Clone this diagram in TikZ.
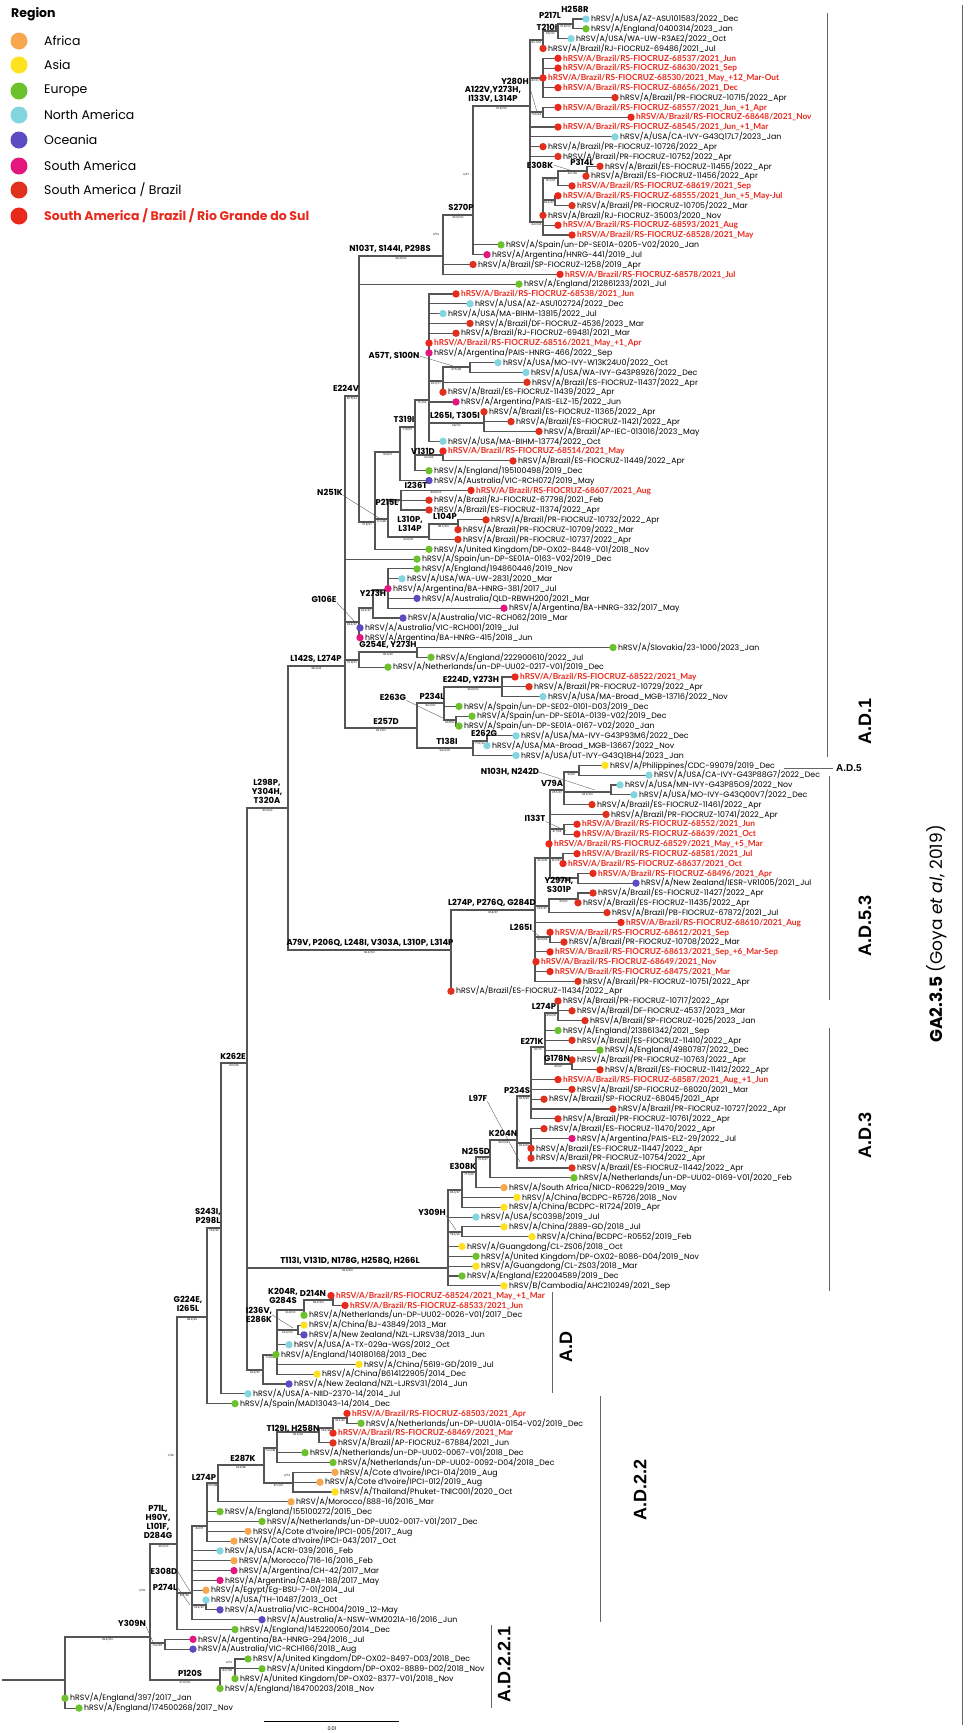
\documentclass[tikz,border=0pt]{standalone}
\usepackage{fontspec}
\setmainfont{Poppins}
\newfontfamily\cladefont{Liberation Sans}
\newfontfamily\rsfont{Lato}
\usetikzlibrary{calc}

\definecolor{afr}{HTML}{F7A84F}
\definecolor{asia}{HTML}{FFE11F}
\definecolor{eur}{HTML}{6DC12C}
\definecolor{nam}{HTML}{83D6E0}
\definecolor{oce}{HTML}{5B4CC2}
\definecolor{sam}{HTML}{E2187F}
\definecolor{bra}{HTML}{E0301E}
\definecolor{rsred}{HTML}{E8291C}
\definecolor{brgray}{HTML}{555555}

\pgfdeclarelayer{bg}
\pgfsetlayers{bg,main}

\tikzset{
  br/.style={draw=brgray, line width=1.1pt, line cap=rect},
  tdot/.style={circle, fill=#1, inner sep=0pt, minimum size=7.4pt},
  tlab/.style={anchor=mid west, inner sep=0pt, font=\fontsize{7.8}{8}\selectfont},
  rslab/.style={tlab, text=rsred, font=\rsfont\fontsize{8.3}{9}\selectfont\bfseries},
  mut/.style={font=\fontsize{8.4}{9}\selectfont\bfseries, align=center, inner sep=0pt},
  sup/.style={pos=0.75, below=0.2pt, font=\fontsize{2.6}{2.8}\selectfont, inner sep=0.3pt},
  note/.style={font=\fontsize{2.6}{2.8}\selectfont, inner sep=0pt},
  ptr/.style={draw=brgray, line width=0.35pt},
  cbar/.style={draw=black!60, line width=0.8pt},
  clab/.style={font=\cladefont\fontsize{18}{18}\selectfont\bfseries, rotate=90},
  legdot/.style={circle, fill=#1, inner sep=0pt, minimum size=17pt},
  legtext/.style={anchor=west, inner sep=0pt, font=\fontsize{12.5}{13}\selectfont},
}

% tips: name, x, row, colour, text
\newcommand{\leaf}[5]{\node[tdot=#4] (#1) at (#2,{ty(#3)}) {};
  \node[tlab] (#1l) at ([xshift=5pt]#1.center) {#5};}
\newcommand{\brleaf}[4]{\leaf{#1}{#2}{#3}{bra}{hRSV/A/Brazil/#4}}
\newcommand{\rsleaf}[4]{\node[tdot=rsred] (#1) at (#2,{ty(#3)}) {};
  \node[rslab] (#1l) at ([xshift=5pt]#1.center) {hRSV/A/Brazil/RS-FIOCRUZ-#4};}
% branches
\newcommand{\kids}[2]{\foreach \kd in {#2}{\draw[br] (#1.center) |- (\kd.center);}}
\newcommand{\twigs}[3]{\draw[br] (#1.center) |- node[sup]{#3} (#2.center);}

\begin{document}
\begin{tikzpicture}[x=1pt, y=-1pt, declare function={ty(\k)=19+(\k-1)*9.82;}]
\useasboundingbox (0,0) rectangle (975,1733);

% legend
\node[anchor=west, inner sep=0pt, font=\fontsize{12.5}{13}\selectfont\bfseries] (legtitle) at (11,14) {Region};
\node[legdot=afr] (lg1) at (19,41) {};   \node[legtext] (lg1t) at (44,41) {Africa};
\node[legdot=asia] (lg2) at (19,65) {};  \node[legtext] (lg2t) at (44,65) {Asia};
\node[legdot=eur] (lg3) at (19,91) {};   \node[legtext] (lg3t) at (44,91) {Europe};
\node[legdot=nam] (lg4) at (19,115) {};  \node[legtext] (lg4t) at (44,115) {North America};
\node[legdot=oce] (lg5) at (19,140) {};  \node[legtext] (lg5t) at (44,140) {Oceania};
\node[legdot=sam] (lg6) at (19,166) {};  \node[legtext] (lg6t) at (44,166) {South America};
\node[legdot=bra] (lg7) at (19,190) {};  \node[legtext] (lg7t) at (44,190) {South America / Brazil};
\node[legdot=rsred] (lg8) at (19,216) {};
\node[legtext, text=rsred, font=\fontsize{12.5}{13}\selectfont\bfseries] (lg8t) at (44,216) {South America / Brazil / Rio Grande do Sul};

% internal nodes
\coordinate (nB) at (573,24);   \coordinate (nA) at (558,31);   \coordinate (nC) at (543,40);
\coordinate (nD) at (543,78);   \coordinate (nE) at (543,112);  \coordinate (nF) at (587,171);
\coordinate (nG) at (558,178);  \coordinate (nI) at (555,200);  \coordinate (nK) at (543,222);
\coordinate (nM) at (530,106);  \coordinate (nS) at (473,215);  \coordinate (nP) at (443,256);
\coordinate (nE224V) at (359,396);
\coordinate (nA57T) at (470,367); \coordinate (nG443) at (443,381); \coordinate (n429) at (429,400);
\coordinate (nL265I) at (484,423); \coordinate (nV131D) at (443,455); \coordinate (n415) at (415,427);
\coordinate (n400) at (400,452); \coordinate (nP215L) at (401,500); \coordinate (nL104P) at (458,524);
\coordinate (nL310P) at (429,537); \coordinate (n388b) at (388,519); \coordinate (n375) at (375,522);
\coordinate (nY273H) at (388,590); \coordinate (n373) at (373,608); \coordinate (nG106E) at (359,622);
\coordinate (nG254E) at (417,652); \coordinate (n359b) at (359,660); \coordinate (nE224D) at (502,687);
\coordinate (nE263G) at (456,720); \coordinate (nP234L) at (444,703); \coordinate (nE262G) at (487,741);
\coordinate (nT138I) at (473,748); \coordinate (nE257D) at (417,728); \coordinate (nL142S) at (345,666);
\coordinate (nPhil) at (579,772); \coordinate (nN103H) at (611,792); \coordinate (nV79A) at (564,790);
\coordinate (nI133T) at (564,829); \coordinate (n563) at (563,858); \coordinate (n578) at (578,878);
\coordinate (n550) at (550,858); \coordinate (nY297H) at (578,899); \coordinate (nY297Hp) at (549,906);
\coordinate (nL265Ib) at (550,937); \coordinate (nL274Pb) at (535,910); \coordinate (nA79V) at (451,950);
\coordinate (nL298P) at (288,808);
\coordinate (nL274Pc) at (558,1013); \coordinate (nG178N) at (572,1064); \coordinate (nE271K) at (545,1047);
\coordinate (nP234S) at (531,1096); \coordinate (n531k) at (531,1143); \coordinate (nK204N) at (517,1140);
\coordinate (nN255D) at (490,1157); \coordinate (nE308K) at (476,1172); \coordinate (n462b) at (462,1190);
\coordinate (n462) at (462,1232); \coordinate (nT113I) at (448,1268);
\coordinate (nD214N) at (333,1300); \coordinate (nK204R) at (304,1310); \coordinate (nI236) at (298,1330);
\coordinate (nZ) at (277,1355); \coordinate (nW) at (263,1370); \coordinate (nK262E) at (247,1063);
\coordinate (nS243I) at (221,1228); \coordinate (nG224E) at (207,1317);
\coordinate (n347) at (347,1418); \coordinate (n333) at (333,1428); \coordinate (nT129I) at (319,1432);
\coordinate (n277) at (277,1448); \coordinate (nCI) at (293,1483); \coordinate (nE287K) at (264,1465);
\coordinate (nL274Pd) at (218,1483); \coordinate (n207b) at (207,1526); \coordinate (n206) at (206,1605);
\coordinate (n192) at (192,1593); \coordinate (n177) at (177,1544); \coordinate (nY309N) at (165,1643);
\coordinate (nUK) at (235,1668); \coordinate (nP120S) at (220,1680); \coordinate (n150) at (150,1637);
\coordinate (root) at (65,1680); \coordinate (rstub) at (3,1680);

% tips
\leaf{t1}{586}{1}{nam}{hRSV/A/USA/AZ-ASU101583/2022\_Dec}
\leaf{t2}{586}{2}{eur}{hRSV/A/England/0400314/2023\_Jan}
\leaf{t3}{571}{3}{nam}{hRSV/A/USA/WA-UW-R3AE2/2022\_Oct}
\brleaf{t4}{543}{4}{RJ-FIOCRUZ-69486/2021\_Jul}
\rsleaf{t5}{558}{5}{68537/2021\_Jun}
\rsleaf{t6}{558}{6}{68630/2021\_Sep}
\rsleaf{t7}{543}{7}{68530/2021\_May\_+12\_Mar-Out}
\rsleaf{t8}{558}{8}{68656/2021\_Dec}
\brleaf{t9}{615}{9}{PR-FIOCRUZ-10715/2022\_Apr}
\rsleaf{t10}{558}{10}{68557/2021\_Jun\_+1\_Apr}
\rsleaf{t11}{631}{11}{68648/2021\_Nov}
\rsleaf{t12}{558}{12}{68545/2021\_Jun\_+1\_Mar}
\leaf{t13}{615}{13}{nam}{hRSV/A/USA/CA-IVY-G43Q17L7/2023\_Jan}
\brleaf{t14}{543}{14}{PR-FIOCRUZ-10726/2022\_Apr}
\brleaf{t15}{558}{15}{PR-FIOCRUZ-10752/2022\_Apr}
\brleaf{t16}{600}{16}{ES-FIOCRUZ-11455/2022\_Apr}
\brleaf{t17}{586}{17}{ES-FIOCRUZ-11456/2022\_Apr}
\rsleaf{t18}{572}{18}{68619/2021\_Sep}
\rsleaf{t19}{558}{19}{68555/2021\_Jun\_+5\_May-Jul}
\brleaf{t20}{572}{20}{PR-FIOCRUZ-10705/2022\_Mar}
\brleaf{t21}{543}{21}{RJ-FIOCRUZ-35003/2020\_Nov}
\rsleaf{t22}{558}{22}{68593/2021\_Aug}
\rsleaf{t23}{572}{23}{68528/2021\_May}
\leaf{t24}{501}{24}{eur}{hRSV/A/Spain/un-DP-SE01A-0205-V02/2020\_Jan}
\leaf{t25}{487}{25}{sam}{hRSV/A/Argentina/HNRG-441/2019\_Jul}
\brleaf{t26}{473}{26}{SP-FIOCRUZ-1258/2019\_Apr}
\rsleaf{t27}{560}{27}{68578/2021\_Jul}
\leaf{t28}{519}{28}{eur}{hRSV/A/England/212861233/2021\_Jul}
\rsleaf{t29}{456}{29}{68538/2021\_Jun}
\leaf{t30}{470}{30}{nam}{hRSV/A/USA/AZ-ASU102724/2022\_Dec}
\leaf{t31}{443}{31}{nam}{hRSV/A/USA/MA-BIHM-13815/2022\_Jul}
\brleaf{t32}{470}{32}{DF-FIOCRUZ-4536/2023\_Mar}
\brleaf{t33}{456}{33}{RJ-FIOCRUZ-69481/2021\_Mar}
\rsleaf{t34}{429}{34}{68516/2021\_May\_+1\_Apr}
\leaf{t35}{429}{35}{sam}{hRSV/A/Argentina/PAIS-HNRG-466/2022\_Sep}
\leaf{t36}{498}{36}{nam}{hRSV/A/USA/MO-IVY-W13K24U0/2022\_Oct}
\leaf{t37}{526}{37}{nam}{hRSV/A/USA/WA-IVY-G43P89Z6/2022\_Dec}
\brleaf{t38}{527}{38}{ES-FIOCRUZ-11437/2022\_Apr}
\brleaf{t39}{443}{39}{ES-FIOCRUZ-11439/2022\_Apr}
\leaf{t40}{456}{40}{sam}{hRSV/A/Argentina/PAIS-ELZ-15/2022\_Jun}
\brleaf{t41}{484}{41}{ES-FIOCRUZ-11365/2022\_Apr}
\brleaf{t42}{511}{42}{ES-FIOCRUZ-11421/2022\_Apr}
\brleaf{t43}{539}{43}{AP-IEC-013016/2023\_May}
\leaf{t44}{443}{44}{nam}{hRSV/A/USA/MA-BIHM-13774/2022\_Oct}
\rsleaf{t45}{443}{45}{68514/2021\_May}
\brleaf{t46}{513}{46}{ES-FIOCRUZ-11449/2022\_Apr}
\leaf{t47}{429}{47}{eur}{hRSV/A/England/195100498/2019\_Dec}
\leaf{t48}{429}{48}{oce}{hRSV/A/Australia/VIC-RCH072/2019\_May}
\rsleaf{t49}{471}{49}{68607/2021\_Aug}
\brleaf{t50}{429}{50}{RJ-FIOCRUZ-67798/2021\_Feb}
\brleaf{t51}{429}{51}{ES-FIOCRUZ-11374/2022\_Apr}
\brleaf{t52}{486}{52}{PR-FIOCRUZ-10732/2022\_Apr}
\brleaf{t53}{458}{53}{PR-FIOCRUZ-10709/2022\_Mar}
\brleaf{t54}{458}{54}{PR-FIOCRUZ-10737/2022\_Apr}
\leaf{t55}{429}{55}{eur}{hRSV/A/United Kingdom/DP-OX02-8448-V01/2018\_Nov}
\leaf{t56}{417}{56}{eur}{hRSV/A/Spain/un-DP-SE01A-0163-V02/2019\_Dec}
\leaf{t57}{417}{57}{eur}{hRSV/A/England/194860446/2019\_Nov}
\leaf{t58}{402}{58}{nam}{hRSV/A/USA/WA-UW-2831/2020\_Mar}
\leaf{t59}{388}{59}{sam}{hRSV/A/Argentina/BA-HNRG-381/2017\_Jul}
\leaf{t60}{417}{60}{oce}{hRSV/A/Australia/QLD-RBWH200/2021\_Mar}
\leaf{t61}{504}{61}{sam}{hRSV/A/Argentina/BA-HNRG-332/2017\_May}
\leaf{t62}{403}{62}{oce}{hRSV/A/Australia/VIC-RCH062/2019\_Mar}
\leaf{t63}{360}{63}{oce}{hRSV/A/Australia/VIC-RCH001/2019\_Jul}
\leaf{t64}{360}{64}{sam}{hRSV/A/Argentina/BA-HNRG-415/2018\_Jun}
\leaf{t65}{613}{65}{eur}{hRSV/A/Slovakia/23-1000/2023\_Jan}
\leaf{t66}{431}{66}{eur}{hRSV/A/England/222900610/2022\_Jul}
\leaf{t67}{388}{67}{eur}{hRSV/A/Netherlands/un-DP-UU02-0217-V01/2019\_Dec}
\rsleaf{t68}{515}{68}{68522/2021\_May}
\brleaf{t69}{529}{69}{PR-FIOCRUZ-10729/2022\_Apr}
\leaf{t70}{543}{70}{nam}{hRSV/A/USA/MA-Broad\_MGB-13716/2022\_Nov}
\leaf{t71}{459}{71}{eur}{hRSV/A/Spain/un-DP-SE02-0101-D03/2019\_Dec}
\leaf{t72}{472}{72}{eur}{hRSV/A/Spain/un-DP-SE01A-0139-V02/2019\_Dec}
\leaf{t73}{459}{73}{eur}{hRSV/A/Spain/un-DP-SE01A-0167-V02/2020\_Jan}
\leaf{t74}{516}{74}{nam}{hRSV/A/USA/MA-IVY-G43P93M6/2022\_Dec}
\leaf{t75}{487}{75}{nam}{hRSV/A/USA/MA-Broad\_MGB-13667/2022\_Nov}
\leaf{t76}{516}{76}{nam}{hRSV/A/USA/UT-IVY-G43Q18H4/2023\_Jan}
\leaf{t77}{605}{77}{asia}{hRSV/A/Philippines/CDC-99079/2019\_Dec}
\leaf{t78}{649}{78}{nam}{hRSV/A/USA/CA-IVY-G43P88G7/2022\_Dec}
\leaf{t79}{620}{79}{nam}{hRSV/A/USA/MN-IVY-G43P85O9/2022\_Nov}
\leaf{t80}{634}{80}{nam}{hRSV/A/USA/MO-IVY-G43Q00V7/2022\_Dec}
\brleaf{t81}{592}{81}{ES-FIOCRUZ-11461/2022\_Apr}
\brleaf{t82}{606}{82}{PR-FIOCRUZ-10741/2022\_Apr}
\rsleaf{t83}{577}{83}{68552/2021\_Jun}
\rsleaf{t84}{577}{84}{68639/2021\_Oct}
\rsleaf{t85}{549}{85}{68529/2021\_May\_+5\_Mar}
\rsleaf{t86}{577}{86}{68581/2021\_Jul}
\rsleaf{t87}{563}{87}{68637/2021\_Oct}
\rsleaf{t88}{593}{88}{68496/2021\_Apr}
\leaf{t89}{636}{89}{oce}{hRSV/A/New Zealand/IESR-VR1005/2021\_Jul}
\brleaf{t90}{593}{90}{ES-FIOCRUZ-11427/2022\_Apr}
\brleaf{t91}{578}{91}{ES-FIOCRUZ-11435/2022\_Apr}
\brleaf{t92}{607}{92}{PB-FIOCRUZ-67872/2021\_Jul}
\rsleaf{t93}{621}{93}{68610/2021\_Aug}
\rsleaf{t94}{550}{94}{68612/2021\_Sep}
\brleaf{t95}{564}{95}{PR-FIOCRUZ-10708/2022\_Mar}
\rsleaf{t96}{550}{96}{68613/2021\_Sep\_+6\_Mar-Sep}
\rsleaf{t97}{536}{97}{68649/2021\_Nov}
\rsleaf{t98}{550}{98}{68475/2021\_Mar}
\brleaf{t99}{578}{99}{PR-FIOCRUZ-10751/2022\_Apr}
\brleaf{t100}{451}{100}{ES-FIOCRUZ-11434/2022\_Apr}
\brleaf{t101}{558}{101}{PR-FIOCRUZ-10717/2022\_Apr}
\brleaf{t102}{572}{102}{DF-FIOCRUZ-4537/2023\_Mar}
\brleaf{t103}{585}{103}{SP-FIOCRUZ-1025/2023\_Jan}
\leaf{t104}{558}{104}{eur}{hRSV/A/England/213861342/2021\_Sep}
\brleaf{t105}{572}{105}{ES-FIOCRUZ-11410/2022\_Apr}
\leaf{t106}{600}{106}{eur}{hRSV/A/England/4980787/2022\_Dec}
\brleaf{t107}{572}{107}{PR-FIOCRUZ-10763/2022\_Apr}
\brleaf{t108}{600}{108}{ES-FIOCRUZ-11412/2022\_Apr}
\rsleaf{t109}{558}{109}{68587/2021\_Aug\_+1\_Jun}
\brleaf{t110}{572}{110}{SP-FIOCRUZ-68020/2021\_Mar}
\brleaf{t111}{544}{111}{SP-FIOCRUZ-68045/2021\_Apr}
\brleaf{t112}{613}{112}{PR-FIOCRUZ-10727/2022\_Apr}
\brleaf{t113}{558}{113}{PR-FIOCRUZ-10761/2022\_Apr}
\brleaf{t114}{544}{114}{ES-FIOCRUZ-11470/2022\_Apr}
\leaf{t115}{572}{115}{sam}{hRSV/A/Argentina/PAIS-ELZ-29/2022\_Jul}
\brleaf{t116}{531}{116}{ES-FIOCRUZ-11447/2022\_Apr}
\brleaf{t117}{531}{117}{PR-FIOCRUZ-10754/2022\_Apr}
\brleaf{t118}{572}{118}{ES-FIOCRUZ-11442/2022\_Apr}
\leaf{t119}{574}{119}{eur}{hRSV/A/Netherlands/un-DP-UU02-0169-V01/2020\_Feb}
\leaf{t120}{504}{120}{afr}{hRSV/A/South Africa/NICD-R06229/2019\_May}
\leaf{t121}{517}{121}{asia}{hRSV/A/China/BCDPC-R5726/2018\_Nov}
\leaf{t122}{504}{122}{asia}{hRSV/A/China/BCDPC-R1724/2019\_Apr}
\leaf{t123}{476}{123}{nam}{hRSV/A/USA/SC0398/2019\_Jul}
\leaf{t124}{504}{124}{asia}{hRSV/A/China/2889-GD/2018\_Jul}
\leaf{t125}{532}{125}{asia}{hRSV/A/China/BCDPC-R0552/2019\_Feb}
\leaf{t126}{462}{126}{asia}{hRSV/A/Guangdong/CL-ZS06/2018\_Oct}
\leaf{t127}{476}{127}{eur}{hRSV/A/United Kingdom/DP-OX02-8086-D04/2019\_Nov}
\leaf{t128}{476}{128}{asia}{hRSV/A/Guangdong/CL-ZS03/2018\_Mar}
\leaf{t129}{462}{129}{eur}{hRSV/A/England/E22004589/2019\_Dec}
\leaf{t130}{504}{130}{asia}{hRSV/B/Cambodia/AHC210249/2021\_Sep}
\rsleaf{t131}{331}{131}{68524/2021\_May\_+1\_Mar}
\rsleaf{t132}{345}{132}{68533/2021\_Jun}
\leaf{t133}{304}{133}{eur}{hRSV/A/Netherlands/un-DP-UU02-0026-V01/2017\_Dec}
\leaf{t134}{304}{134}{asia}{hRSV/A/China/BJ-43849/2013\_Mar}
\leaf{t135}{304}{135}{oce}{hRSV/A/New Zealand/NZL-LJRSV38/2013\_Jun}
\leaf{t136}{289}{136}{nam}{hRSV/A/USA/A-TX-029a-WGS/2012\_Oct}
\leaf{t137}{276}{137}{eur}{hRSV/A/England/140180168/2013\_Dec}
\leaf{t138}{359}{138}{asia}{hRSV/A/China/5619-GD/2019\_Jul}
\leaf{t139}{317}{139}{asia}{hRSV/A/China/B614122905/2014\_Dec}
\leaf{t140}{289}{140}{oce}{hRSV/A/New Zealand/NZL-LJRSV31/2014\_Jun}
\leaf{t141}{248}{141}{nam}{hRSV/A/USA/A-NIID-2370-14/2014\_Jul}
\leaf{t142}{235}{142}{eur}{hRSV/A/Spain/MAD13043-14/2014\_Dec}
\rsleaf{t143}{347}{143}{68503/2021\_Apr}
\leaf{t144}{361}{144}{eur}{hRSV/A/Netherlands/un-DP-UU01A-0154-V02/2019\_Dec}
\rsleaf{t145}{333}{145}{68469/2021\_Mar}
\brleaf{t146}{333}{146}{AP-FIOCRUZ-67884/2021\_Jun}
\leaf{t147}{305}{147}{eur}{hRSV/A/Netherlands/un-DP-UU02-0067-V01/2018\_Dec}
\leaf{t148}{333}{148}{eur}{hRSV/A/Netherlands/un-DP-UU02-0092-D04/2018\_Dec}
\leaf{t149}{335}{149}{afr}{hRSV/A/Cote d'Ivoire/IPCI-014/2019\_Aug}
\leaf{t150}{320}{150}{afr}{hRSV/A/Cote d'Ivoire/IPCI-012/2019\_Aug}
\leaf{t151}{335}{151}{asia}{hRSV/A/Thailand/Phuket-TNIC001/2020\_Oct}
\leaf{t152}{291}{152}{afr}{hRSV/A/Morocco/888-16/2016\_Mar}
\leaf{t153}{220}{153}{eur}{hRSV/A/England/155100272/2015\_Dec}
\leaf{t154}{262}{154}{eur}{hRSV/A/Netherlands/un-DP-UU02-0017-V01/2017\_Dec}
\leaf{t155}{248}{155}{afr}{hRSV/A/Cote d'Ivoire/IPCI-005/2017\_Aug}
\leaf{t156}{234}{156}{afr}{hRSV/A/Cote d'Ivoire/IPCI-043/2017\_Oct}
\leaf{t157}{220}{157}{nam}{hRSV/A/USA/ACRI-039/2016\_Feb}
\leaf{t158}{234}{158}{afr}{hRSV/A/Morocco/716-16/2016\_Feb}
\leaf{t159}{234}{159}{sam}{hRSV/A/Argentina/CH-42/2017\_Mar}
\leaf{t160}{220}{160}{sam}{hRSV/A/Argentina/CABA-188/2017\_May}
\leaf{t161}{206}{161}{afr}{hRSV/A/Egypt/Eg-BSU-7-01/2014\_Jul}
\leaf{t162}{206}{162}{nam}{hRSV/A/USA/TH-10487/2013\_Oct}
\leaf{t163}{220}{163}{oce}{hRSV/A/Australia/VIC-RCH004/2019\_12-May}
\leaf{t164}{262}{164}{oce}{hRSV/A/Australia/A-NSW-WM2021A-16/2016\_Jun}
\leaf{t165}{235}{165}{eur}{hRSV/A/England/145220050/2014\_Dec}
\leaf{t166}{193}{166}{sam}{hRSV/A/Argentina/BA-HNRG-294/2016\_Jul}
\leaf{t167}{193}{167}{oce}{hRSV/A/Australia/VIC-RCH166/2018\_Aug}
\leaf{t168}{248}{168}{eur}{hRSV/A/United Kingdom/DP-OX02-8497-D03/2018\_Dec}
\leaf{t169}{262}{169}{eur}{hRSV/A/United Kingdom/DP-OX02-8889-D02/2018\_Nov}
\leaf{t170}{235}{170}{eur}{hRSV/A/United Kingdom/DP-OX02-8377-V01/2018\_Nov}
\leaf{t171}{220}{171}{eur}{hRSV/A/England/184700203/2018\_Nov}
\leaf{t172}{65}{172}{eur}{hRSV/A/England/397/2017\_Jan}
\leaf{t173}{79}{173}{eur}{hRSV/A/England/174500268/2017\_Nov}

\begin{pgfonlayer}{bg}
  % A.D.1
  \kids{nB}{t1,t2}
  \kids{nA}{t3} \twigs{nA}{nB}{76.4/100}
  \kids{nC}{t4} \twigs{nC}{nA}{80/100}
  \kids{nD}{t5,t6,t7,t8,t9}
  \kids{nE}{t10,t11}
  \kids{nF}{t16,t17}
  \kids{nG}{t18} \twigs{nG}{nF}{90.1/99}
  \kids{nI}{t19,t20}
  \kids{nK}{t21,t22,t23} \twigs{nK}{nG}{78.2/97} \twigs{nK}{nI}{84.9/97}
  \kids{nM}{t12,t13,t14,t15}
  \twigs{nM}{nC}{80.7/97} \twigs{nM}{nD}{80.5/77} \twigs{nM}{nE}{73.6/93} \twigs{nM}{nK}{84.2/93}
  \kids{nS}{t24,t25} \twigs{nS}{nM}{97.4/100}
  \kids{nP}{t26,t27} \twigs{nP}{nS}{90.6/100}
  \kids{nA57T}{t36,t37}
  \kids{nG443}{t38,t39} \twigs{nG443}{nA57T}{87.5/98}
  \kids{nL265I}{t41,t42,t43}
  \kids{n429}{t29,t30,t31,t32,t33,t34,t35,t40,t44}
  \twigs{n429}{nG443}{80.5/77} \twigs{n429}{nL265I}{96/100}
  \kids{nV131D}{t45,t46}
  \kids{n415}{t47} \twigs{n415}{n429}{76.1/94} \twigs{n415}{nV131D}{92.1/94}
  \kids{n400}{t48} \twigs{n400}{n415}{77.8/97}
  \twigs{nP215L}{t49}{89.8/100} \kids{nP215L}{t50,t51}
  \kids{nL104P}{t52,t53}
  \kids{nL310P}{t54} \twigs{nL310P}{nL104P}{88.0/100}
  \twigs{n388b}{nP215L}{77.9/97} \twigs{n388b}{nL310P}{92.6/97}
  \kids{n375}{t55} \twigs{n375}{n400}{78.8/97} \twigs{n375}{n388b}{72.4/86}
  \kids{nE224V}{t28} \twigs{nE224V}{nP}{96.4/100} \twigs{nE224V}{n375}{76.6/97}
  \kids{nY273H}{t57,t58,t59,t60,t61}
  \kids{n373}{t62} \twigs{n373}{nY273H}{81.9/97}
  \kids{nG106E}{t63,t64} \twigs{nG106E}{n373}{80.4/97}
  \kids{nG254E}{t65,t66}
  \kids{n359b}{t67} \twigs{n359b}{nG254E}{95.9/92}
  \kids{nE224D}{t68,t69,t70}
  \kids{nE263G}{t72,t73}
  \kids{nP234L}{t71} \twigs{nP234L}{nE224D}{96.6/100} \twigs{nP234L}{nE263G}{86.2/91}
  \kids{nE262G}{t74,t75}
  \kids{nT138I}{t76} \twigs{nT138I}{nE262G}{77.6/94}
  \twigs{nE257D}{nP234L}{86.3/90} \twigs{nE257D}{nT138I}{94.2/100}
  \kids{nL142S}{t56}
  \twigs{nL142S}{nE224V}{80.5/94} \twigs{nL142S}{nG106E}{84.9/97}
  \twigs{nL142S}{n359b}{75.9/62} \twigs{nL142S}{nE257D}{96.1/100}
  % A.D.5 and A.D.5.3
  \kids{nPhil}{t77,t78}
  \kids{nN103H}{t79,t80}
  \kids{nV79A}{t81} \twigs{nV79A}{nPhil}{96/87} \twigs{nV79A}{nN103H}{94.6/100}
  \kids{nI133T}{t83,t84}
  \kids{n563}{t86,t87}
  \kids{n578}{t88,t89}
  \kids{n550}{t82,t85}
  \twigs{n550}{nV79A}{95.5/97} \twigs{n550}{nI133T}{91.7/96}
  \twigs{n550}{n563}{81.7/90} \twigs{n550}{n578}{86.4/92}
  \kids{nY297H}{t90,t91}
  \kids{nY297Hp}{t92} \twigs{nY297Hp}{nY297H}{65/90}
  \kids{nL265Ib}{t94,t95}
  \kids{nL274Pb}{t93,t96,t97,t98,t99}
  \twigs{nL274Pb}{n550}{96.4/92} \twigs{nL274Pb}{nY297Hp}{96.6/97} \twigs{nL274Pb}{nL265Ib}{84.6/96}
  \kids{nA79V}{t100} \twigs{nA79V}{nL274Pb}{96.8/97}
  \twigs{nL298P}{nL142S}{88.4/92} \twigs{nL298P}{nA79V}{99.9/100}
  % A.D.3
  \kids{nL274Pc}{t101,t102,t103}
  \kids{nG178N}{t107,t108}
  \kids{nE271K}{t104,t105,t106} \twigs{nE271K}{nL274Pc}{85.6/97} \twigs{nE271K}{nG178N}{85/97}
  \kids{nP234S}{t109,t110,t111,t112,t113} \twigs{nP234S}{nE271K}{87/70}
  \kids{n531k}{t114,t115,t116,t117}
  \kids{nK204N}{t118} \twigs{nK204N}{nP234S}{85.5/96} \twigs{nK204N}{n531k}{83.4/96}
  \kids{nN255D}{t119} \twigs{nN255D}{nK204N}{86.5/99}
  \kids{nE308K}{t120} \twigs{nE308K}{nN255D}{76.6/97}
  \kids{n462b}{t121,t122} \twigs{n462b}{nE308K}{77.7/96}
  \kids{n462}{t124,t125}
  \kids{nT113I}{t123,t126,t127,t128,t129,t130}
  \twigs{nT113I}{n462b}{86.3/97} \twigs{nT113I}{n462}{78.6/96}
  % A.D
  \kids{nD214N}{t131,t132}
  \kids{nK204R}{t133} \twigs{nK204R}{nD214N}{89.9/100}
  \kids{nI236}{t134,t135}
  \kids{nZ}{t136,t137,t138,t139} \twigs{nZ}{nK204R}{91.4/100} \twigs{nZ}{nI236}{92.2/100}
  \kids{nW}{t140} \twigs{nW}{nZ}{71.4/98}
  \twigs{nK262E}{nL298P}{83.9/90} \twigs{nK262E}{nT113I}{99.9/100} \twigs{nK262E}{nW}{80.9/97}
  \kids{nS243I}{t141} \twigs{nS243I}{nK262E}{81.6/96}
  \kids{nG224E}{t142} \twigs{nG224E}{nS243I}{74.9/96}
  % A.D.2.2
  \kids{n347}{t143,t144}
  \kids{n333}{t145} \twigs{n333}{n347}{44.4/92}
  \kids{nT129I}{t146} \twigs{nT129I}{n333}{78.6/98}
  \kids{n277}{t147,t148} \twigs{n277}{nT129I}{96.2/98}
  \kids{nCI}{t149,t150,t151}
  \twigs{nE287K}{n277}{74.4/98} \twigs{nE287K}{nCI}{87.2/97}
  \kids{nL274Pd}{t152} \twigs{nL274Pd}{nE287K}{93.2/98}
  \kids{n207b}{t153,t154,t155,t156} \twigs{n207b}{nL274Pd}{73.5/88}
  \kids{n206}{t162,t163}
  \kids{n192}{t157,t158,t159,t160,t161,t164} \twigs{n192}{n207b}{84/76} \twigs{n192}{n206}{93.6/97}
  \kids{n177}{t165} \twigs{n177}{nG224E}{88.3/99} \twigs{n177}{n192}{81.3/96}
  \kids{nY309N}{t166,t167}
  \kids{nUK}{t168,t169,t170}
  \kids{nP120S}{t171} \twigs{nP120S}{nUK}{84.7/96}
  \twigs{n150}{n177}{95.1/100} \twigs{n150}{nY309N}{73.2/96} \twigs{n150}{nP120S}{97.6/100}
  \kids{root}{t172,t173} \twigs{root}{n150}{99.8/100}
  \draw[br] (rstub) -- (root);
\end{pgfonlayer}

% loose support values
\node[note] (z1) at (466,174) {0/67};
\node[note] (z2) at (436,234) {0/79};
\node[note] (z3) at (171,1455) {0/60};
\node[note] (z4) at (142,1590) {0/78};
\node[note] (z5) at (287,1475) {0/74};
\node[note] (z6) at (229,1662) {6/76};

% substitutions
\node[mut] (mP217L) at (550,15) {P217L};
\node[mut] (mH258R) at (575,9) {H258R};
\node[mut] (mT210I) at (547,27) {T210I};
\node[mut] (mY280H) at (515,81) {Y280H};
\node[mut] (mA122V) at (493,94) {A122V,Y273H,\\I133V, L314P};
\node[mut] (mE308Ka) at (540,165) {E308K};
\node[mut] (mP314L) at (582,162) {P314L};
\node[mut] (mS270P) at (461,207) {S270P};
\node[mut] (mN103T) at (390,249) {N103T, S144I, P298S};
\node[mut] (mE224V) at (346,388) {E224V};
\node[mut] (mA57T) at (394,356) {A57T, S100N};
\node[mut] (mT319I) at (404,419) {T319I};
\node[mut] (mL265I) at (455,416) {L265I, T305I};
\node[mut] (mV131D) at (423,451) {V131D};
\node[mut] (mN251K) at (330,492) {N251K};
\node[mut] (mI236T) at (416,485) {I236T};
\node[mut] (mP215L) at (387,502) {P215L};
\node[mut] (mL310P) at (410,524) {L310P,\\L314P};
\node[mut] (mL104P) at (445,516) {L104P};
\node[mut] (mG106E) at (324,599) {G106E};
\node[mut] (mY273Ha) at (373,593) {Y273H};
\node[mut] (mG254E) at (388,645) {G254E, Y273H};
\node[mut] (mL142S) at (316,659) {L142S, L274P};
\node[mut] (mE224D) at (471,680) {E224D, Y273H};
\node[mut] (mE263G) at (393,697) {E263G};
\node[mut] (mP234L) at (432,696) {P234L};
\node[mut] (mE257D) at (386,721) {E257D};
\node[mut] (mE262G) at (484,733) {E262G};
\node[mut] (mT138I) at (447,741) {T138I};
\node[mut] (mN103H) at (510,772) {N103H, N242D};
\node[mut] (mV79A) at (552,783) {V79A};
\node[mut] (mI133T) at (535,818) {I133T};
\node[mut] (mL298P) at (267,791) {L298P,\\Y304H,\\T320A};
\node[mut] (mY297H) at (559,885) {Y297H,\\S301P};
\node[mut] (mL274Pb) at (492,903) {L274P, P276Q, G284D};
\node[mut] (mL265Ib) at (521,927) {L265I};
\node[mut] (mA79V) at (370,943) {A79V, P206Q, L248I, V303A, L310P, L314P};
\node[mut] (mL274Pc) at (544,1006) {L274P};
\node[mut] (mE271K) at (532,1041) {E271K};
\node[mut] (mG178N) at (557,1058) {G178N};
\node[mut] (mK262E) at (233,1056) {K262E};
\node[mut] (mP234S) at (517,1090) {P234S};
\node[mut] (mL97F) at (478,1098) {L97F};
\node[mut] (mK204N) at (503,1133) {K204N};
\node[mut] (mN255D) at (476,1151) {N255D};
\node[mut] (mE308Kb) at (463,1166) {E308K};
\node[mut] (mY309H) at (432,1212) {Y309H};
\node[mut] (mS243I) at (208,1216) {S243I,\\P298L};
\node[mut] (mT113I) at (350,1261) {T113I, V131D, N178G, H258Q, H266L};
\node[mut] (mK204R) at (283,1296) {K204R,\\G284S};
\node[mut] (mD214N) at (313,1293) {D214N};
\node[mut] (mI236V) at (259,1315) {I236V,\\E286K};
\node[mut] (mG224E) at (188,1304) {G224E,\\I265L};
\node[mut] (mT129I) at (293,1429) {T129I, H258N};
\node[mut] (mE287K) at (243,1458) {E287K};
\node[mut] (mL274Pd) at (204,1477) {L274P};
\node[mut] (mP71L) at (158,1522) {P71L,\\H90Y,\\L101F,\\D284G};
\node[mut] (mE308D) at (164,1571) {E308D};
\node[mut] (mP274L) at (165,1587) {P274L};
\node[mut] (mY309N) at (132,1623) {Y309N};
\node[mut] (mP120S) at (190,1673) {P120S};

% pointer lines
\coordinate (qY280H) at (537,112);  \draw[ptr] (mY280H.south east) -- (qY280H);
\coordinate (qE308Ka) at (573,171); \draw[ptr] (mE308Ka.east) -- (qE308Ka);
\coordinate (qA57T) at (453,366);   \draw[ptr] (mA57T.east) -- (qA57T);
\coordinate (qN251K) at (379,518);  \draw[ptr] (mN251K.south east) -- (qN251K);
\coordinate (qG106E) at (355,622);  \draw[ptr] (mG106E.south east) -- (qG106E);
\coordinate (qE263G) at (451,722);  \draw[ptr] (mE263G.south east) -- (qE263G);
\coordinate (qN103H) at (595,790);  \draw[ptr] (mN103H.east) -- (qN103H);
\coordinate (qI133T) at (566,831);  \draw[ptr] (mI133T.south east) -- (qI133T);
\coordinate (qL265Ib) at (540,937); \draw[ptr] (mL265Ib.south east) -- (qL265Ib);
\coordinate (qL97F) at (520,1162);  \draw[ptr] (mL97F.south east) -- (qL97F);
\coordinate (qY309H) at (456,1230); \draw[ptr] (mY309H.south east) -- (qY309H);
\coordinate (qI236V) at (293,1328); \draw[ptr] (mI236V.east) -- (qI236V);
\coordinate (qE308D) at (191,1593); \draw[ptr] (mE308D.east) -- (qE308D);
\coordinate (qP274L) at (190,1605); \draw[ptr] (mP274L.east) -- (qP274L);
\coordinate (qY309N) at (153,1642); \draw[ptr] (mY309N.south east) -- (qY309N);

% clade bars
\coordinate (b1a) at (827,13);   \coordinate (b1b) at (827,757);
\draw[cbar] (b1a) -- (b1b);
\node[clab] (cAD1) at (865,721) {A.D.1};
\coordinate (b2a) at (784,768);  \coordinate (b2b) at (833,768);
\draw[cbar, line width=0.5pt] (b2a) -- (b2b);
\node[anchor=west, inner sep=0pt, font=\cladefont\fontsize{10}{10}\selectfont\bfseries] (cAD5) at (836,768) {A.D.5};
\coordinate (b3a) at (829,776);  \coordinate (b3b) at (829,1000);
\draw[cbar] (b3a) -- (b3b);
\node[clab] (cAD53) at (865,926) {A.D.5.3};
\coordinate (b4a) at (829,1028); \coordinate (b4b) at (829,1291);
\draw[cbar] (b4a) -- (b4b);
\node[clab] (cAD3) at (865,1135) {A.D.3};
\coordinate (b5a) at (552,1292); \coordinate (b5b) at (552,1393);
\draw[cbar] (b5a) -- (b5b);
\node[clab] (cAD) at (566,1347) {A.D};
\coordinate (b6a) at (600,1396); \coordinate (b6b) at (600,1622);
\draw[cbar] (b6a) -- (b6b);
\node[clab] (cAD22) at (640,1490) {A.D.2.2};
\coordinate (b7a) at (491,1625); \coordinate (b7b) at (491,1708);
\draw[cbar] (b7a) -- (b7b);
\node[clab] (cAD221) at (504,1664) {A.D.2.2.1};

% genotype
\coordinate (gA) at (962,5); \coordinate (gB) at (962,1725);
\draw[draw=black!60, line width=0.8pt] (gA) -- (gB);
\node[rotate=90, font=\fontsize{17}{17}\selectfont] (gtype) at (937,934) {\textbf{GA2.3.5} (Goya \textit{et al}, 2019)};

% scale bar
\coordinate (sA) at (264,1721); \coordinate (sB) at (399,1721);
\draw[line width=0.7pt] (sA) -- (sB);
\node[font=\fontsize{5}{5}\selectfont, inner sep=0pt] (sLab) at (332,1729) {0.01};

\end{tikzpicture}
\end{document}
